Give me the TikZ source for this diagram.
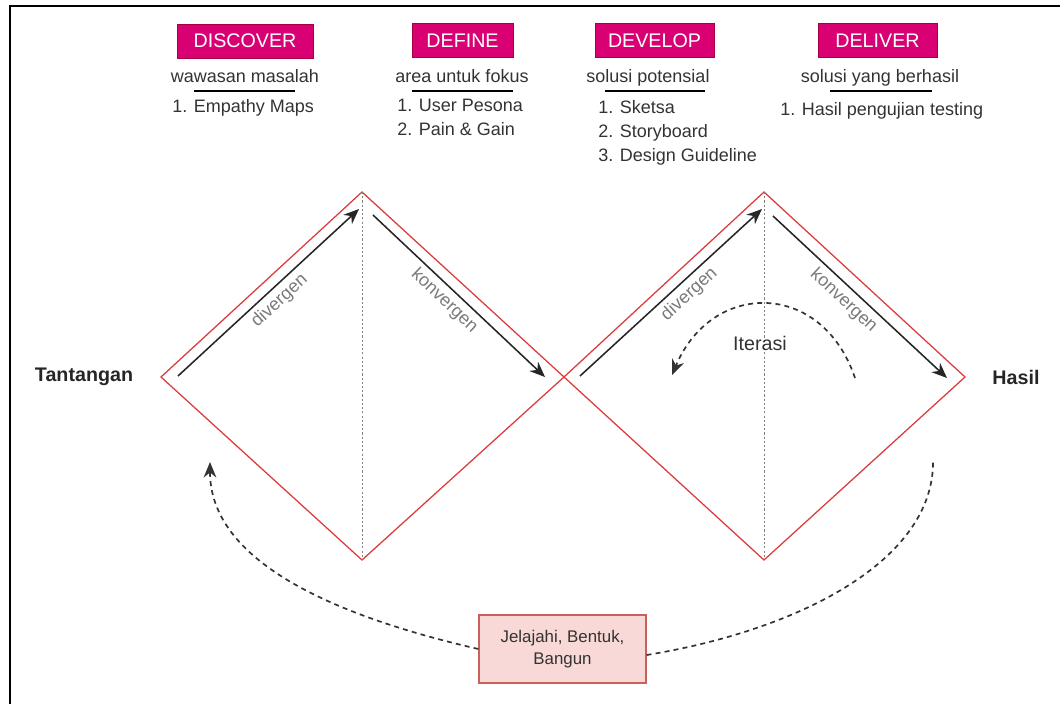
\documentclass[tikz,border=0pt]{standalone}
\usepackage{fontspec}
\setmainfont{Liberation Sans}
\usetikzlibrary{arrows.meta}

\definecolor{phasefill}{HTML}{D80073}
\definecolor{phaseline}{HTML}{A50040}
\definecolor{diamondline}{HTML}{DD3B3B}
\definecolor{explorefill}{HTML}{F9D9D7}
\definecolor{exploreline}{HTML}{C8605C}
\definecolor{textgray}{HTML}{333333}
\definecolor{labelgray}{HTML}{7A7A7A}

\tikzset{
  phase/.style={fill=phasefill, draw=phaseline, text=white, font=\fontsize{14}{16}\selectfont,
    minimum height=0.85cm, inner sep=0pt},
  subtitle/.style={anchor=base, text=textgray, font=\fontsize{12.8}{15}\selectfont, inner sep=0pt},
  item/.style={anchor=base west, text=textgray, font=\fontsize{12.8}{15}\selectfont, inner sep=0pt},
  endpoint/.style={font=\bfseries\fontsize{14}{16}\selectfont, text=black!85},
  flow/.style={line width=1.1pt, black!85, -{Stealth[length=11pt,width=9pt]}},
  flowlabel/.style={sloped, below, text=labelgray, font=\fontsize{12.8}{15}\selectfont},
  loopback/.style={line width=1.2pt, black!80, dash pattern=on 3.5pt off 3pt},
  explore/.style={fill=explorefill, draw=exploreline, line width=0.8pt, text=textgray,
    minimum width=4.175cm, minimum height=1.7cm, align=center, font=\fontsize{12}{15.6}\selectfont}
}

\begin{document}
\begin{tikzpicture}[x=0.025cm, y=-0.025cm]
  \useasboundingbox (0,0) rectangle (1060,704);
  % frame
  \draw[line width=1pt] (1060,6) -- (10,6) -- (10,704);

  % phases
  \node[phase, minimum width=3.4cm] (discover) at (245,41) {DISCOVER};
  \node[phase, minimum width=2.525cm] (define) at (462.5,40.5) {DEFINE};
  \node[phase, minimum width=2.975cm] (develop) at (654.5,40.5) {DEVELOP};
  \node[phase, minimum width=2.975cm] (deliver) at (877.5,40.5) {DELIVER};

  \node[subtitle] (discoversub) at (245,82) {wawasan masalah};
  \node[subtitle] (definesub) at (462,82) {area untuk fokus};
  \node[subtitle] (developsub) at (648,82) {solusi potensial};
  \node[subtitle] (deliversub) at (880,82) {solusi yang berhasil};
  \draw[line width=1pt] (194,91) -- (295,91);
  \draw[line width=1pt] (412,91) -- (513,91);
  \draw[line width=1pt] (605,91) -- (705,91);
  \draw[line width=1pt] (830,91) -- (932,91);

  \node[item] (discover1) at (172,112) {1. Empathy Maps};
  \node[item] (define1) at (397,111) {1. User Pesona};
  \node[item] (define2) at (397,135) {2. Pain \& Gain};
  \node[item] (develop1) at (598,113) {1. Sketsa};
  \node[item] (develop2) at (598,137) {2. Storyboard};
  \node[item] (develop3) at (598,161) {3. Design Guideline};
  \node[item] (deliver1) at (780,115) {1. Hasil pengujian testing};

  % double diamond
  \coordinate (start) at (161,377);
  \coordinate (top1) at (362,192);
  \coordinate (mid) at (564,377);
  \coordinate (bottom1) at (362,560);
  \coordinate (top2) at (764,192);
  \coordinate (finish) at (965,377);
  \coordinate (bottom2) at (764,560);
  \draw[diamondline, line width=0.9pt] (start) -- (top1) -- (mid) -- (bottom1) -- cycle;
  \draw[diamondline, line width=0.9pt] (mid) -- (top2) -- (finish) -- (bottom2) -- cycle;
  \draw[gray, line width=0.6pt, dash pattern=on 1.5pt off 1.5pt] (top1) -- (bottom1);
  \draw[gray, line width=0.6pt, dash pattern=on 1.5pt off 1.5pt] (top2) -- (bottom2);

  \node[endpoint] (tantangan) at (84,377) {Tantangan};
  \node[endpoint] (hasil) at (1016,377) {Hasil};

  % divergen / konvergen
  \coordinate (div1a) at (178,376);
  \coordinate (div1b) at (359,209);
  \coordinate (kon1a) at (373,215);
  \coordinate (kon1b) at (545,377);
  \coordinate (div2a) at (580,376);
  \coordinate (div2b) at (762,209);
  \coordinate (kon2a) at (773,216);
  \coordinate (kon2b) at (947,378);
  \draw[flow] (div1a) -- node[flowlabel, pos=0.51] (div1label) {divergen} (div1b);
  \draw[flow] (kon1a) -- node[flowlabel, pos=0.47] (kon1label) {konvergen} (kon1b);
  \draw[flow] (div2a) -- node[flowlabel, pos=0.55] (div2label) {divergen} (div2b);
  \draw[flow] (kon2a) -- node[flowlabel, pos=0.46] (kon2label) {konvergen} (kon2b);

  % iterasi
  \node[text=textgray, font=\fontsize{14}{16}\selectfont] (iterasi) at (760,343) {Iterasi};
  \coordinate (iterfrom) at (855,378);
  \coordinate (iterto) at (672,375);
  \draw[loopback, -{Stealth[length=11pt,width=9pt]}] (iterfrom) .. controls (822,280) and (712,280) .. (iterto);

  % explore box and return loops
  \node[explore] (explore) at (562.5,649) {Jelajahi, Bentuk,\\Bangun};
  \coordinate (leftreturn) at (210,462);
  \coordinate (rightreturn) at (933,460);
  \draw[loopback, -{Stealth[length=11pt,width=9pt]}] (explore.west) .. controls (330,615) and (210,560) .. (leftreturn);
  \draw[loopback] ([yshift=-0.15cm]explore.east) .. controls (800,630) and (935,560) .. (rightreturn);
\end{tikzpicture}
\end{document}
